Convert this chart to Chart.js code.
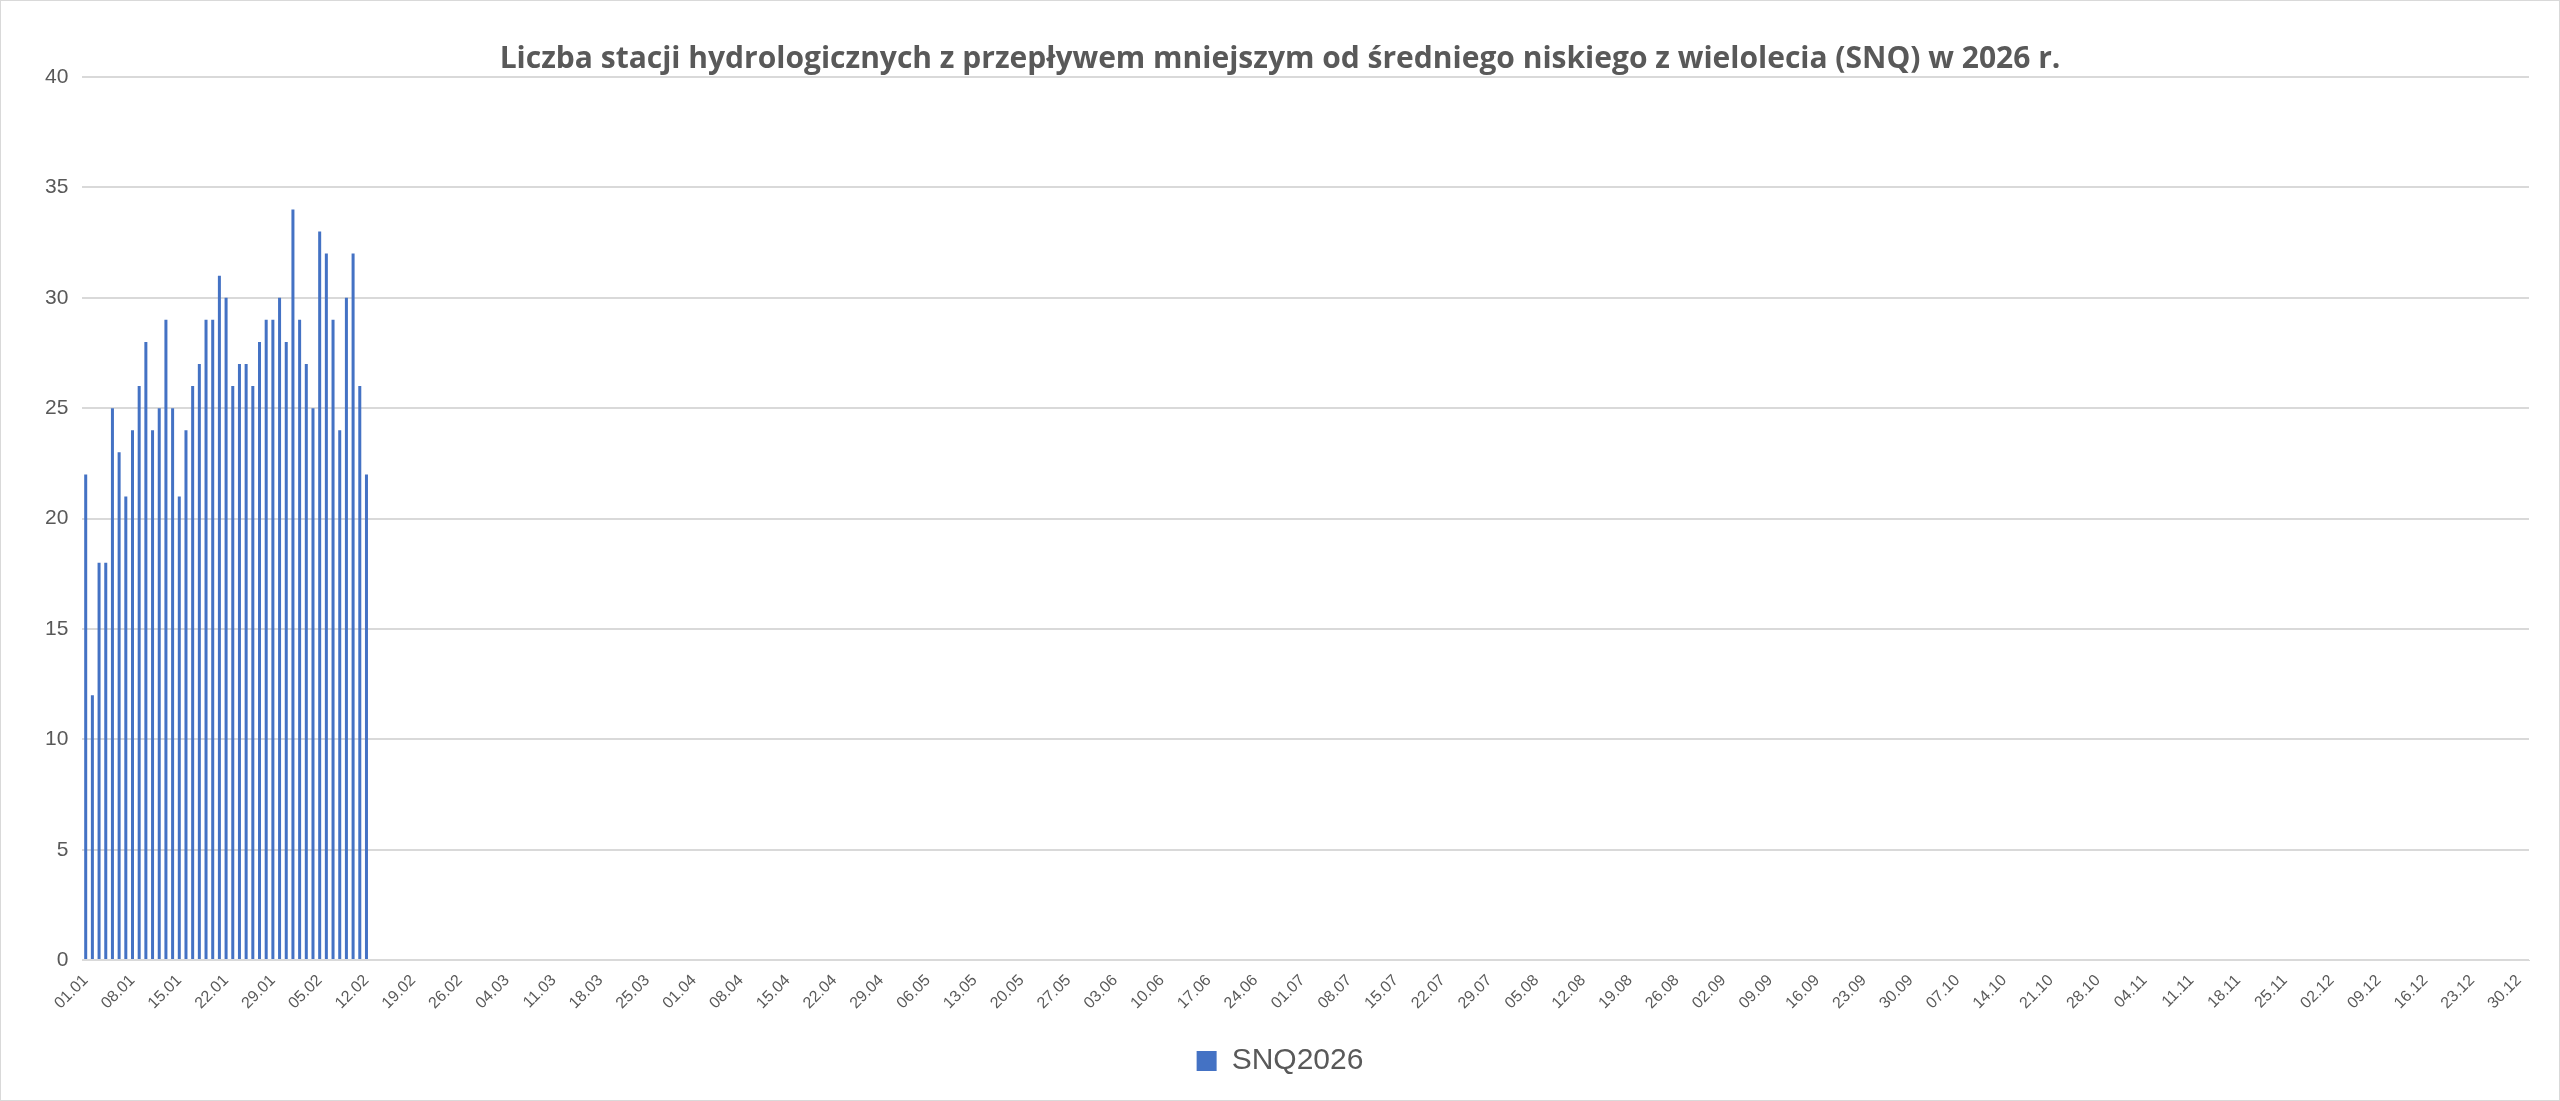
<!DOCTYPE html>
<html><head><meta charset="utf-8">
<script src="https://cdn.jsdelivr.net/npm/chart.js@4/dist/chart.umd.min.js"></script>
<style>html,body{margin:0;padding:0;background:#fff}#wrap{position:absolute;left:0;top:0;width:2558px;height:1099px;border:1px solid #d9d9d9}</style>
</head><body><div id="wrap"><canvas id="c"></canvas></div>
<script>
const seriesName = "SNQ2026";
const values = [22,12,18,18,25,23,21,24,26,28,24,25,29,25,21,24,26,27,29,29,31,30,26,27,27,26,28,29,29,30,28,34,29,27,25,33,32,29,24,30,32,26,22];
const titleText = "Liczba stacji hydrologicznych z przepływem mniejszym od średniego niskiego z wielolecia (SNQ) w 2026 r.";
const monthDays = [31,29,31,30,31,30,31,31,30,31,30,31];
const labels = [];
monthDays.forEach((n,m)=>{for(let d=1;d<=n;d++)labels.push(String(d).padStart(2,'0')+'.'+String(m+1).padStart(2,'0'));});
const data = labels.map((_,i)=> i<values.length ? values[i] : null);
new Chart(document.getElementById('c'),{
 type:'bar',
 data:{labels,datasets:[{label:seriesName,data,backgroundColor:'#4472C4',barPercentage:0.45,categoryPercentage:1}]},
 options:{responsive:true,maintainAspectRatio:false,animation:false,devicePixelRatio:1,
  layout:{padding:{left:30,right:30,top:8,bottom:14}},
  plugins:{
   title:{display:true,text:titleText,color:'#595959',font:{family:'Open Sans',size:30,weight:'bold'},padding:{top:32,bottom:0}},
   legend:{position:'bottom',labels:{color:'#595959',font:{family:'Liberation Sans',size:30},boxWidth:20,boxHeight:20,padding:30}},
   tooltip:{enabled:false}},
  scales:{
   x:{grid:{display:false},border:{color:'#d9d9d9'},
      ticks:{autoSkip:false,maxRotation:45,minRotation:45,color:'#595959',font:{family:'Liberation Sans',size:16},
        callback:function(v,i){return i%7===0?labels[i]:null;}}},
   y:{min:0,max:40,ticks:{stepSize:5,color:'#595959',font:{family:'Liberation Sans',size:21},padding:14},
      grid:{color:'#d9d9d9',lineWidth:2,drawTicks:false},border:{display:false}}
  }}
});
</script></body></html>
